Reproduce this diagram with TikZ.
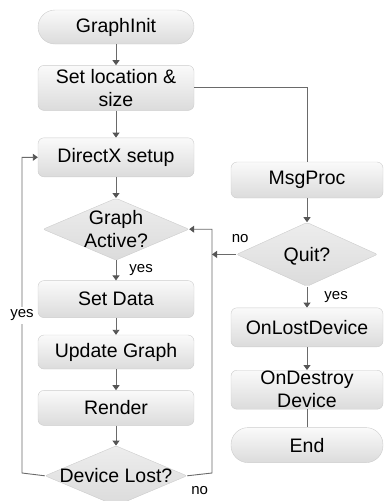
\documentclass[tikz,border=0pt]{standalone}
\usepackage{fontspec}
\setmainfont{Liberation Sans}
\usetikzlibrary{positioning}
\usetikzlibrary{shapes.geometric}
\usetikzlibrary{arrows.meta}

\definecolor{linegray}{HTML}{6A6A6A}
\definecolor{tipgray}{HTML}{555555}

\begin{document}
\begin{tikzpicture}
  [x=1pt, y=-1pt,
   box/.style={draw=gray!40, rounded corners=6pt, top color=gray!4, bottom color=gray!28,
      minimum width=156pt, minimum height=36pt, align=center, inner sep=1pt,
      font=\fontsize{19.5}{23}\selectfont},
   rbox/.style={box, minimum width=152pt},
   term/.style={rounded corners=17pt},
   decision/.style={diamond, draw=gray!40, top color=gray!14, bottom color=gray!28,
      inner sep=0pt, rounded corners=2pt},
   dtext/.style={font=\fontsize{19.5}{23}\selectfont, align=center},
   flow/.style={draw=linegray, line width=0.9pt, -{Triangle[length=5pt, width=7pt, color=tipgray]}},
   line/.style={draw=linegray, line width=0.9pt},
   note/.style={font=\fontsize{15}{16}\selectfont, inner sep=1pt},
  ]
  \useasboundingbox (0,0) rectangle (384,501);

  % left column
  \node[box, term, minimum height=34pt] (init) at (116,27) {GraphInit};
  \node[box, minimum height=45pt, below=21pt of init] (loc) {Set location \&\\size};
  \node[box, minimum height=39pt, below=27pt of loc] (dx) {DirectX setup};
  \node[decision, minimum width=146pt, minimum height=62pt, below=21pt of dx,
        label={[dtext]center:{Graph\\Active?}}] (active) {};
  \node[box, minimum height=37pt, below=20pt of active] (setdata) {Set Data};
  \node[box, minimum height=34pt, below=17pt of setdata] (update) {Update Graph};
  \node[box, minimum height=35pt, below=21pt of update] (render) {Render};
  \node[decision, minimum width=142pt, minimum height=60pt, below=20pt of render,
        label={[dtext]center:{Device Lost?}}] (lost) {};

  % right column
  \node[rbox, minimum height=36pt] (msg) at (307,180) {MsgProc};
  \node[decision, minimum width=141pt, minimum height=64pt, below=24pt of msg,
        label={[dtext, yshift=-2pt]center:{Quit?}}] (quit) {};
  \node[rbox, minimum height=39pt, below=21pt of quit] (lostdev) {OnLostDevice};
  \node[rbox, minimum height=39pt, below=23pt of lostdev] (destroy) {OnDestroy\\Device};
  \node[rbox, term, minimum height=35pt, below=18pt of destroy] (end) {End};

  \coordinate (lloop) at (22,473);
  \coordinate (rloop) at (212,473);

  \draw[flow] (init) -- (loc);
  \draw[flow] (loc) -- (dx);
  \draw[flow] (dx) -- (active);
  \draw[flow] (active) -- node[note, right=12pt] {yes} (setdata);
  \draw[flow] (setdata) -- (update);
  \draw[flow] (update) -- (render);
  \draw[flow] (render) -- (lost);
  \draw[flow] (lost.west) -- (lloop) |- node[note, pos=0.25, fill=white, inner sep=3pt] {yes} (dx.west);
  \draw[flow] (lost.east) -- node[note, below=11pt] {no} (rloop) |- (active.east);

  \draw[line] (loc.east) -| (msg.north);
  \draw[flow] (msg) -- (quit);
  \draw[flow] (quit.west) node[note, above right=10pt and -6pt] {no} -- (quit.west -| rloop);
  \draw[flow] (quit) -- node[note, right=16pt] {yes} (lostdev);
  \draw[flow] (lostdev) -- (destroy);
  \draw[line] (destroy) -- (end);
\end{tikzpicture}
\end{document}
